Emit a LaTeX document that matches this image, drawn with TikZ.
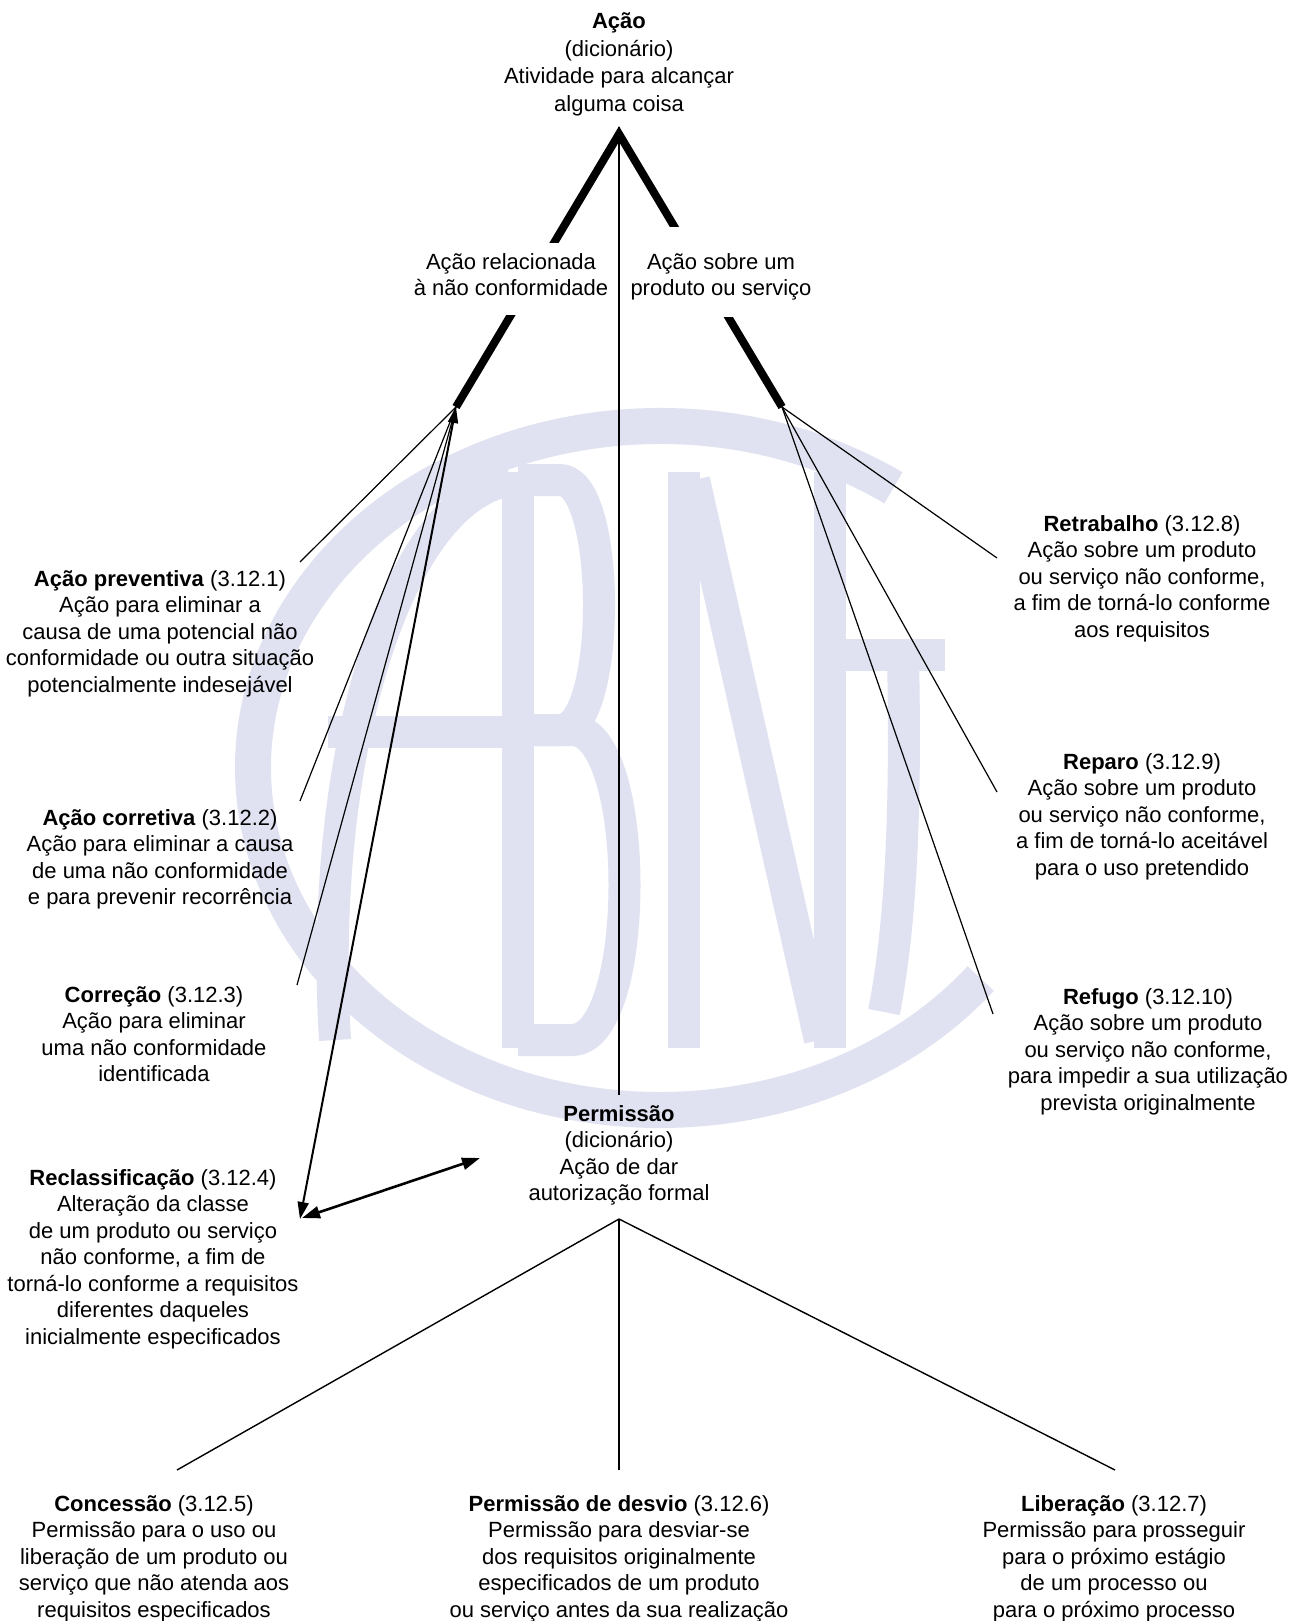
\documentclass[tikz,border=0pt]{standalone}
\usepackage{fontspec}
\setmainfont{Liberation Sans}
\usetikzlibrary{arrows.meta}
\definecolor{wm}{RGB}{224,226,241}
\begin{document}
\begin{tikzpicture}[x=1pt,y=-1pt,
  txt/.style={font=\fontsize{22}{26.5}\selectfont, align=center, inner sep=0pt, anchor=north},
  toptxt/.style={txt, font=\fontsize{22}{27.4}\selectfont},
  wmline/.style={draw=wm, line width=32pt, line cap=butt, line join=round},
  thinline/.style={line width=1.2pt},
  axisline/.style={line width=1.4pt},
  thickline/.style={line width=8pt, line join=miter, line cap=butt},
  longarrow/.style={line width=2pt, {Triangle[length=16pt,width=10pt]}-{Triangle[length=17pt,width=11pt]}},
  shortarrow/.style={line width=2.6pt, {Triangle[length=18pt,width=12pt]}-{Triangle[length=18pt,width=12pt]}}
]
\useasboundingbox (0,0) rectangle (1302,1621);
\fill[white] (0,0) rectangle (1302,1621);

% ---- watermark (ABNT logo) ----
\draw[wmline, line width=36pt] (660,768) ++(-55:407 and 342)
  arc[start angle=-55, end angle=-322, x radius=407, y radius=342];
% A
\draw[wmline] (335,1040) .. controls (318,760) and (395,500) .. (510,480);
\draw[wmline] (518,472) -- (518,1048);
\draw[wmline] (328,732) -- (518,732);
% B
\draw[wmline] (518,480) -- (560,480) .. controls (612,480) and (612,730) .. (560,730) -- (518,730);
\draw[wmline] (518,730) -- (572,730) .. controls (642,730) and (642,1040) .. (572,1040) -- (518,1040);
% N
\draw[wmline] (684,472) -- (684,1048);
\draw[wmline] (694,480) -- (820,1040);
\draw[wmline] (830,472) -- (830,1048);
% T
\draw[wmline] (830,655) -- (945,655);
\draw[wmline] (903,655) .. controls (906,800) and (902,920) .. (884,1012);

% ---- coordinates ----
\coordinate (apex) at (619,134);
\coordinate (apexTop) at (619,127);
\coordinate (L) at (456,407);
\coordinate (R) at (782,407);
\coordinate (vEnd) at (619,1095);
\coordinate (prevE) at (300,562);
\coordinate (corrE) at (300,801);
\coordinate (correcE) at (297,985);
\coordinate (reclE) at (300,1219);
\coordinate (reclE2) at (302,1218);
\coordinate (permE) at (480,1158);
\coordinate (retrE) at (997,558);
\coordinate (repE) at (997,792);
\coordinate (refE) at (993,1014);
\coordinate (pB) at (619,1219);
\coordinate (concE) at (177,1470);
\coordinate (desvE) at (619,1470);
\coordinate (libE) at (1115,1470);

% ---- connectors ----
\draw[thickline] (L) -- (apex) -- (R);
\draw[axisline] (apexTop) -- (vEnd);
\draw[thinline] (L) -- (prevE);
\draw[thinline] (L) -- (corrE);
\draw[thinline] (L) -- (correcE);
\draw[longarrow] (L) -- (reclE);
\draw[shortarrow] (reclE2) -- (permE);
\draw[thinline] (R) -- (retrE);
\draw[thinline] (R) -- (repE);
\draw[thinline] (R) -- (refE);
\draw[axisline] (pB) -- (concE);
\draw[axisline] (pB) -- (desvE);
\draw[axisline] (pB) -- (libE);

% ---- label boxes over the thick lines ----
\fill[white] (412,243) rectangle (615,315);
\fill[white] (623,227) rectangle (822,317);

% ---- texts ----
\node[toptxt] (acao) at (619,9.5) {\strut\textbf{Ação}\\(dicionário)\\Atividade para alcançar\\alguma coisa};
\node[txt] (relac) at (511,250.5) {\strut Ação relacionada\\à não conformidade};
\node[txt] (sobre) at (721,250.5) {\strut Ação sobre um\\produto ou serviço};
\node[txt] (prev) at (160,567.5) {\strut\textbf{Ação preventiva} (3.12.1)\\Ação para eliminar a\\causa de uma potencial não\\conformidade ou outra situação\\potencialmente indesejável};
\node[txt] (corr) at (160,806.5) {\strut\textbf{Ação corretiva} (3.12.2)\\Ação para eliminar a causa\\de uma não conformidade\\e para prevenir recorrência};
\node[txt] (correc) at (154,983.5) {\strut\textbf{Correção} (3.12.3)\\Ação para eliminar\\uma não conformidade\\identificada};
\node[txt] (recl) at (153,1166.5) {\strut\textbf{Reclassificação} (3.12.4)\\Alteração da classe\\de um produto ou serviço\\não conforme, a fim de\\torná-lo conforme a requisitos\\diferentes daqueles\\inicialmente especificados};
\node[txt] (perm) at (619,1102.5) {\strut\textbf{Permissão}\\(dicionário)\\Ação de dar\\autorização formal};
\node[txt] (conc) at (154,1492.5) {\strut\textbf{Concessão} (3.12.5)\\Permissão para o uso ou\\liberação de um produto ou\\serviço que não atenda aos\\requisitos especificados};
\node[txt] (desv) at (619,1492.5) {\strut\textbf{Permissão de desvio} (3.12.6)\\Permissão para desviar-se\\dos requisitos originalmente\\especificados de um produto\\ou serviço antes da sua realização};
\node[txt] (lib) at (1114,1492.5) {\strut\textbf{Liberação} (3.12.7)\\Permissão para prosseguir\\para o próximo estágio\\de um processo ou\\para o próximo processo};
\node[txt] (retr) at (1142,512.5) {\strut\textbf{Retrabalho} (3.12.8)\\Ação sobre um produto\\ou serviço não conforme,\\a fim de torná-lo conforme\\aos requisitos};
\node[txt] (rep) at (1142,750.5) {\strut\textbf{Reparo} (3.12.9)\\Ação sobre um produto\\ou serviço não conforme,\\a fim de torná-lo aceitável\\para o uso pretendido};
\node[txt] (ref) at (1148,985.5) {\strut\textbf{Refugo} (3.12.10)\\Ação sobre um produto\\ou serviço não conforme,\\para impedir a sua utilização\\prevista originalmente};
\end{tikzpicture}
\end{document}
